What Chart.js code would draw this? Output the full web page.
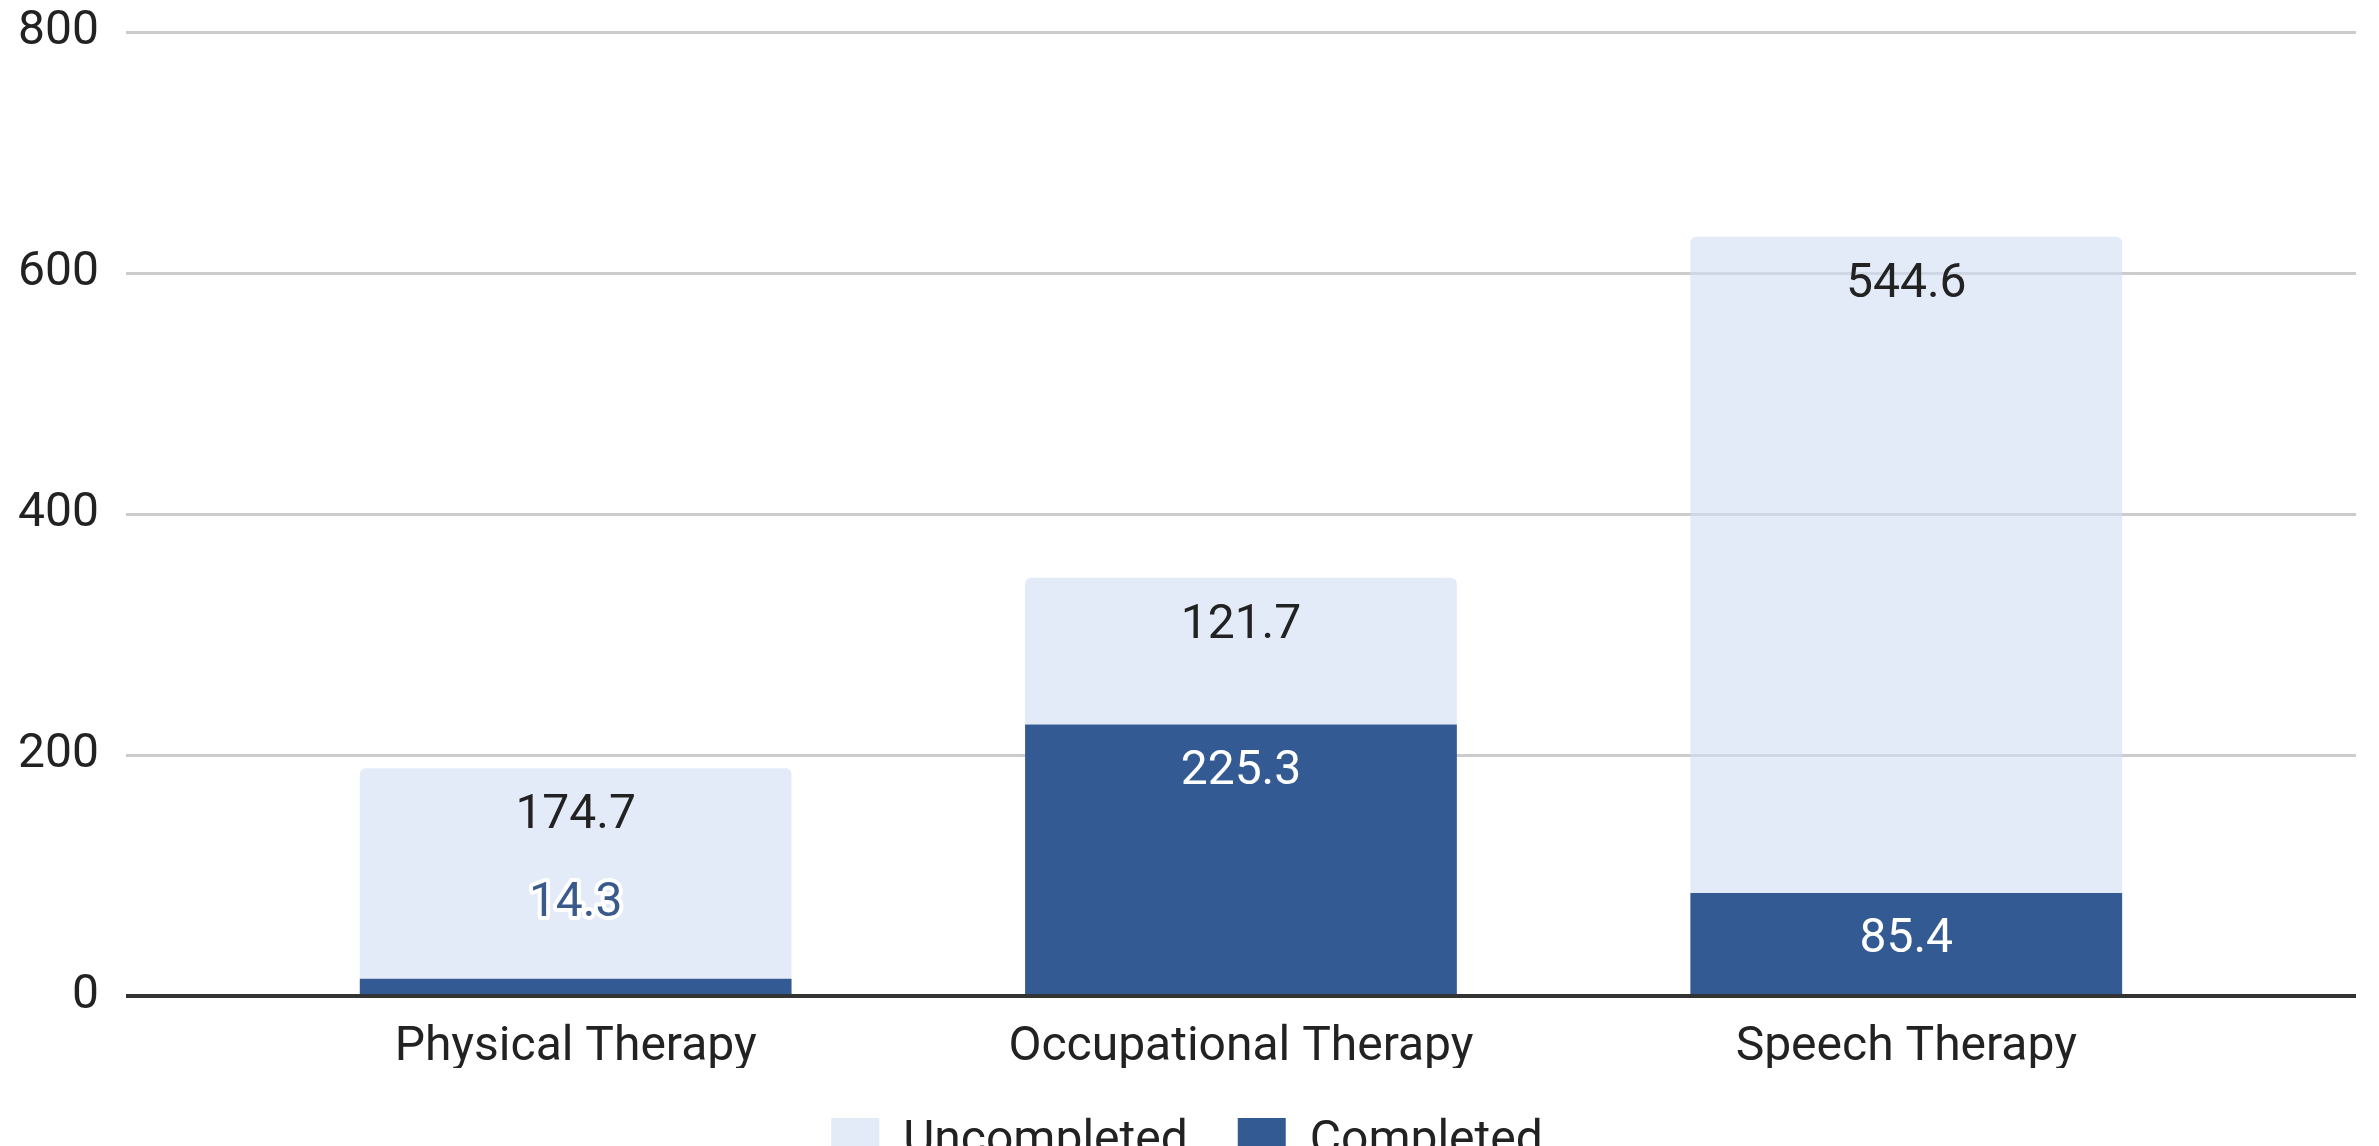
<!DOCTYPE html>
<html>
<head>
<meta charset="utf-8">
<script src="https://cdn.jsdelivr.net/npm/chart.js@4"></script>
<style>
  html, body { margin: 0; padding: 0; background: #fff; overflow: hidden; }
  #grafico { display: block; }
</style>
</head>
<body>
<canvas id="grafico" width="2379" height="1176"></canvas>
<script>
// dados do gráfico
const categorias = ['Physical Therapy', 'Occupational Therapy', 'Speech Therapy'];
const concluidas = [14.3, 225.3, 85.4];
const naoConcluidas = [174.7, 121.7, 544.6];
const ticksY = [0, 200, 400, 600, 800];

const corEscura = '#345a94';
const corClara = 'rgba(208, 220, 243, 0.6)';

// rótulos de valor dentro/acima das barras
const rotulosPlugin = {
  id: 'rotulos',
  afterDatasetsDraw(chart) {
    const ctx = chart.ctx;
    ctx.save();
    ctx.font = '48px Roboto';
    ctx.textAlign = 'center';
    ctx.textBaseline = 'middle';
    chart.data.datasets.forEach((ds, di) => {
      const meta = chart.getDatasetMeta(di);
      meta.data.forEach((bar, i) => {
        const texto = ds.data[i].y.toFixed(1);
        const altura = bar.base - bar.y;
        if (di === 0) {
          if (altura > 90) {
            ctx.fillStyle = '#ffffff';
            ctx.fillText(texto, bar.x, bar.y + 47);
          } else {
            // valor pequeno: fica acima da barra, com contorno branco
            const y = bar.y - 75;
            ctx.lineWidth = 8;
            ctx.lineJoin = 'round';
            ctx.strokeStyle = '#ffffff';
            ctx.strokeText(texto, bar.x, y);
            ctx.fillStyle = '#3b5a8c';
            ctx.fillText(texto, bar.x, y);
          }
        } else {
          ctx.fillStyle = '#222222';
          ctx.fillText(texto, bar.x, bar.y + 48);
        }
      });
    });
    ctx.restore();
  }
};

const ctx = document.getElementById('grafico').getContext('2d');
new Chart(ctx, {
  type: 'bar',
  data: {
    datasets: [
      {
        label: 'Completed',
        data: concluidas.map((v, i) => ({ x: i, y: v })),
        backgroundColor: corEscura,
        borderWidth: 0
      },
      {
        label: 'Uncompleted',
        data: naoConcluidas.map((v, i) => ({ x: i, y: v })),
        backgroundColor: corClara,
        borderWidth: 0,
        borderRadius: { topLeft: 6, topRight: 6, bottomLeft: 0, bottomRight: 0 },
        borderSkipped: 'start'
      }
    ]
  },
  options: {
    responsive: false,
    animation: false,
    categoryPercentage: 1,
    barPercentage: 0.649,
    layout: {
      padding: { top: 32, left: 18, right: 23, bottom: 0 }
    },
    plugins: {
      legend: {
        position: 'bottom',
        reverse: true,
        labels: {
          font: { family: 'Roboto', size: 48 },
          color: '#222222',
          boxWidth: 48,
          boxHeight: 48,
          padding: 50
        }
      },
      tooltip: { enabled: false }
    },
    scales: {
      x: {
        type: 'linear',
        stacked: true,
        offset: false,
        min: -0.676,
        max: 2.676,
        grid: { display: false },
        border: { display: false },
        afterBuildTicks: function(scale) {
          scale.ticks = categorias.map((_, i) => ({ value: i }));
        },
        afterFit: function(scale) {
          scale.height = 72;
        },
        ticks: {
          padding: 15,
          color: '#222222',
          font: { family: 'Roboto', size: 48 },
          callback: function(value) {
            return categorias[value];
          }
        }
      },
      y: {
        stacked: true,
        min: 0,
        max: 800,
        afterBuildTicks: function(scale) {
          scale.ticks = ticksY.map(v => ({ value: v }));
        },
        afterFit: function(scale) {
          scale.width -= 27;
          scale.paddingTop = 0;
          scale.paddingBottom = 0;
        },
        grid: {
          drawTicks: false,
          color: function(c) { return c.tick.value === 0 ? '#333333' : '#cccccc'; },
          lineWidth: function(c) { return c.tick.value === 0 ? 4 : 3; }
        },
        border: { display: false },
        ticks: {
          padding: 27,
          color: '#222222',
          font: { family: 'Roboto', size: 48 }
        }
      }
    }
  },
  plugins: [rotulosPlugin]
});
</script>
</body>
</html>
